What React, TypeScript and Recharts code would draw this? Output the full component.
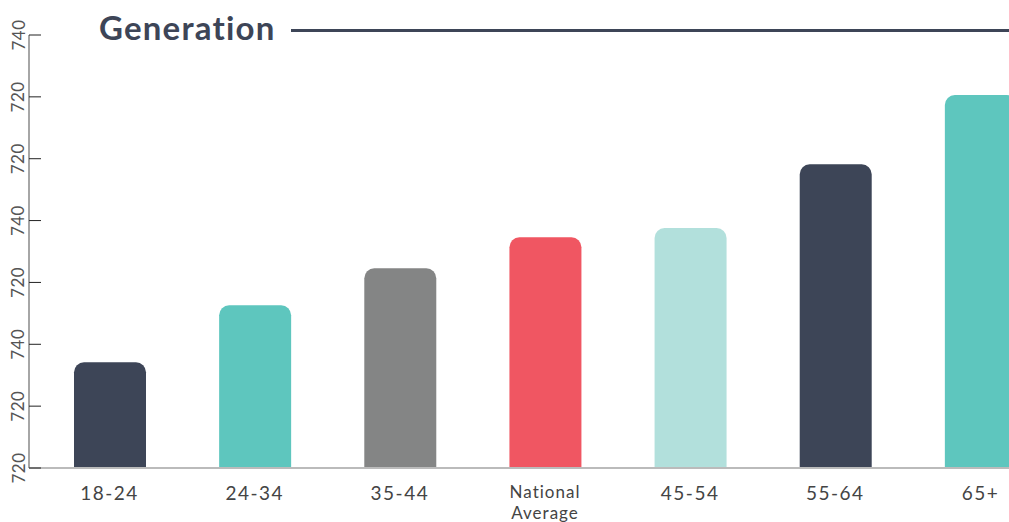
import React from 'react';
import { BarChart, Bar, XAxis, YAxis, Cell } from 'recharts';

const categories = ['18-24', '24-34', '35-44', 'National Average', '45-54', '55-64', '65+'];
const values = [17.1, 26.3, 32.3, 37.3, 38.8, 49.1, 60.3];
const barColors = ['#3d4557', '#5ec6be', '#848585', '#f05662', '#b2e0dc', '#3d4557', '#5ec6be'];
const yTicks = [0, 10, 20, 30, 40, 50, 60, 70];
const yTickLabels = ['720', '720', '740', '720', '740', '720', '720', '740'];

const data = categories.map((name, i) => ({ name, value: values[i] }));

const font = 'Lato, "Open Sans", sans-serif';

function YTick(props: any) {
  const { x, y, index } = props;
  return (
    <g>
      <line x1={x} y1={y} x2={x + 12} y2={y} stroke="#222" strokeWidth={1} />
      <text
        x={x - 11}
        y={y}
        transform={`rotate(-90, ${x - 11}, ${y})`}
        textAnchor="middle"
        dominantBaseline="central"
        fill="#555"
        fontSize={17}
        letterSpacing={0.5}
        fontFamily={font}
      >
        {yTickLabels[index]}
      </text>
    </g>
  );
}

function XTick(props: any) {
  const { x, y, payload } = props;
  const words = String(payload.value).split(' ');
  if (words.length > 1) {
    return (
      <text x={x} y={y + 22} textAnchor="middle" fill="#444" fontSize={17} letterSpacing={1} fontFamily={font}>
        {words.map((w, i) => (
          <tspan key={i} x={x} dy={i === 0 ? 0 : 21}>
            {w}
          </tspan>
        ))}
      </text>
    );
  }
  return (
    <text x={x} y={y + 24} textAnchor="middle" fill="#444" fontSize={19} letterSpacing={1.5} fontFamily={font}>
      {payload.value}
    </text>
  );
}

export default function App() {
  return (
    <div
      style={{
        position: 'absolute',
        left: 0,
        top: 0,
        width: 1009,
        height: 522,
        overflow: 'hidden',
        background: '#fff',
      }}
    >
      <BarChart
        width={1053}
        height={522}
        data={data}
        margin={{ top: 35, right: 0, left: 0, bottom: 0 }}
      >
        <XAxis
          dataKey="name"
          height={54}
          padding={{ left: 8, right: 0 }}
          tickLine={false}
          axisLine={{ stroke: '#bbb', strokeWidth: 2 }}
          tick={<XTick />}
          interval={0}
        />
        <YAxis
          width={29}
          domain={[0, 70]}
          ticks={yTicks}
          tickSize={0}
          tickMargin={0}
          tickLine={false}
          axisLine={{ stroke: '#888', strokeWidth: 1.5 }}
          tick={<YTick />}
          interval={0}
        />
        <Bar dataKey="value" barSize={72} radius={[10, 10, 0, 0]} isAnimationActive={false}>
          {data.map((d, i) => (
            <Cell key={d.name} fill={barColors[i]} />
          ))}
        </Bar>
      </BarChart>
      <div
        style={{
          position: 'absolute',
          left: 99,
          top: 7,
          fontFamily: font,
          fontWeight: 700,
          fontSize: 33,
          letterSpacing: 1.2,
          color: '#3d4557',
          lineHeight: '40px',
        }}
      >
        Generation
      </div>
      <div
        style={{
          position: 'absolute',
          left: 291,
          top: 29,
          width: 720,
          height: 3,
          background: '#3d4557',
        }}
      />
    </div>
  );
}
